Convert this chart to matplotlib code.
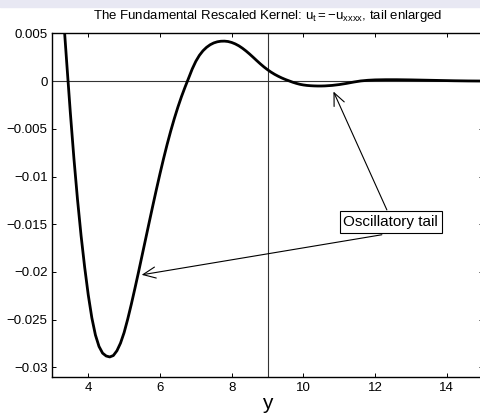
import matplotlib
matplotlib.use('Agg')
from matplotlib import pyplot as plt
from matplotlib.patches import Rectangle

plt.rcParams['font.family'] = ['Liberation Sans', 'DejaVu Sans']
plt.rcParams['mathtext.fontset'] = 'custom'
plt.rcParams['mathtext.rm'] = 'Liberation Sans'
plt.rcParams['mathtext.it'] = 'Liberation Sans'

# values
y_vals = [3.3, 3.4, 3.5, 3.6, 3.7, 3.8, 3.9, 4.0, 4.1, 4.2, 4.3, 4.4, 4.5, 4.6,
          4.7, 4.8, 4.9, 5.0, 5.1, 5.2, 5.3, 5.4, 5.5, 5.6, 5.7, 5.8, 5.9, 6.0,
          6.1, 6.2, 6.3, 6.4, 6.5, 6.6, 6.7, 6.8, 6.9, 7.0, 7.1, 7.2, 7.3, 7.4,
          7.5, 7.6, 7.7, 7.8, 7.9, 8.0, 8.1, 8.2, 8.3, 8.4, 8.5, 8.6, 8.7, 8.8,
          8.9, 9.0, 9.1, 9.2, 9.3, 9.4, 9.5, 9.6, 9.7, 9.8, 9.9, 10.0, 10.1,
          10.2, 10.3, 10.4, 10.5, 10.6, 10.8, 11.0, 11.2, 11.4, 11.6, 11.8,
          12.0, 12.3, 12.6, 13.0, 13.4, 13.8, 14.2, 14.6, 15.0]
kernel = [0.0072, 0.0019, -0.0033, -0.0081, -0.0124, -0.0162, -0.0195,
          -0.0224, -0.0248, -0.0266, -0.0278, -0.0285, -0.0288, -0.0289,
          -0.02875, -0.02825, -0.02745, -0.02635, -0.02495, -0.0234, -0.02175,
          -0.02005, -0.0183, -0.01655, -0.0148, -0.01307, -0.01137, -0.00972,
          -0.00814, -0.00664, -0.00524, -0.00394, -0.00274, -0.00164, -0.00064,
          0.00031, 0.00126, 0.00206, 0.00269, 0.00317, 0.00353, 0.0038,
          0.00399, 0.00411, 0.00417, 0.00418, 0.00414, 0.00404, 0.00389,
          0.00369, 0.00344, 0.00315, 0.00283, 0.00249, 0.00214, 0.0018,
          0.00148, 0.00119, 0.00093, 0.0007, 0.0005, 0.00032, 0.00016, 0.00002,
          -0.00012, -0.00024, -0.00034, -0.00041, -0.00046, -0.00049, -0.00051,
          -0.00052, -0.00052, -0.00051, -0.00046, -0.00037, -0.00025, -0.00011,
          0.00001, 0.00008, 0.00012, 0.00014, 0.00014, 0.00012, 0.00009,
          0.00006, 0.00003, 0.00001, 0.0]
x_ticks = [4, 6, 8, 10, 12, 14]
y_ticks = [-0.03, -0.025, -0.02, -0.015, -0.01, -0.005, 0, 0.005]
y_tick_labels = ['\u22120.03', '\u22120.025', '\u22120.02', '\u22120.015',
                 '\u22120.01', '\u22120.005', '0', '0.005']

fig = plt.figure(figsize=(4.81, 4.18), dpi=100)
fig.patches.append(Rectangle((0, 1 - 7 / 418), 1, 7 / 418, transform=fig.transFigure,
                             color='#e8e8f3', zorder=0))
ax = fig.add_axes([52.4 / 481, 41 / 418, 430.2 / 481, 343.7 / 418])

ax.axhline(0, color='#333333', lw=0.8)
ax.axvline(9, color='#333333', lw=0.8)
ax.plot(y_vals, kernel, color='black', lw=2.0)

ax.set_xlim(3, 15)
ax.set_ylim(-0.031, 0.005)
ax.set_xticks(x_ticks)
ax.set_yticks(y_ticks)
ax.set_yticklabels(y_tick_labels)
ax.tick_params(direction='in', length=3, width=0.7, labelsize=9.5, top=True, right=True)
for s in ax.spines.values():
    s.set_linewidth(1.0)

ax.set_title(r'The Fundamental Rescaled Kernel: $\mathrm{u_t{=}{-}u_{xxxx}}$, tail enlarged',
             fontsize=9.5, pad=10)
ax.set_xlabel('y', fontsize=15, labelpad=0)

ax.text(12.44, -0.01478, 'Oscillatory tail', fontsize=11, ha='center', va='center',
        bbox=dict(boxstyle='square,pad=0.25', fc='white', ec='black', lw=0.8))
arrow = dict(arrowstyle='->,head_length=0.45,head_width=0.2', color='black', lw=0.8,
             mutation_scale=20, shrinkA=0, shrinkB=0)
ax.annotate('', xy=(10.84, -0.0011), xytext=(12.33, -0.0135), arrowprops=arrow)
ax.annotate('', xy=(5.49, -0.0203), xytext=(12.19, -0.0161), arrowprops=arrow)

fig.savefig('out.png', dpi=100)
